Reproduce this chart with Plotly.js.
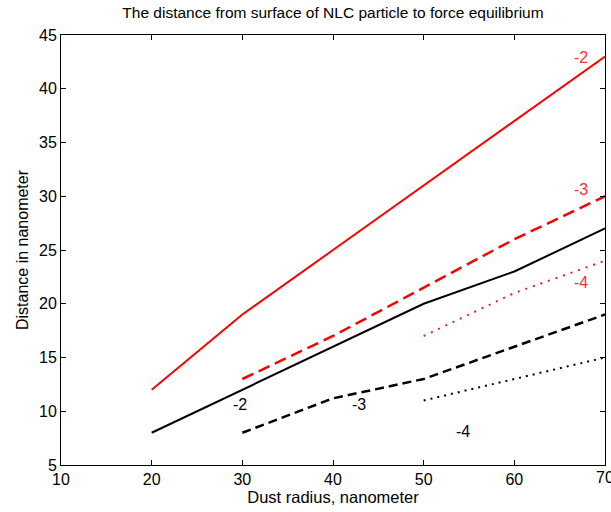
<!DOCTYPE html>
<html>
<head>
<meta charset="utf-8">
<script src="https://cdn.plot.ly/plotly-3.0.1.min.js"></script>
<style>html,body{margin:0;padding:0;background:#fff;}#chart{width:611px;height:512px;}</style>
</head>
<body>
<div id="chart"></div>
<script>
// Data
var xA = [20, 30, 40, 50, 60, 70];
var xB = [30, 40, 50, 60, 70];
var xC = [50, 60, 70];
var redSolid = [12, 19, 25, 31, 37, 43];
var redDashed = [13, 17, 21.5, 26, 30];
var redDotted = [17, 21, 24];
var blackSolid = [8, 12, 16, 20, 23, 27];
var blackDashed = [8, 11.2, 13, 16, 19];
var blackDotted = [11, 13, 15];

var labelText = ['-2', '-3', '-4', '-2', '-3', '-4'];
var labelX = [67.3, 67.3, 67.3, 29.7, 42.9, 54.3];
var labelY = [42.9, 30.6, 22.0, 10.6, 10.6, 8.1];
var labelColor = ['#e8343c', '#e8343c', '#e8343c', '#000000', '#000000', '#000000'];

var xTicks = [10, 20, 30, 40, 50, 60, 70];
var yTicks = [5, 10, 15, 20, 25, 30, 35, 40, 45];

var FONT = '"Liberation Sans", Arial, sans-serif';

var traces = [
  {x: xA, y: redSolid, mode: 'lines', line: {color: '#ff0000', width: 2, dash: 'solid'}},
  {x: xB, y: redDashed, mode: 'lines', line: {color: '#ff0000', width: 2.5, dash: '12px,6px'}},
  {x: xC, y: redDotted, mode: 'lines', line: {color: '#e0203c', width: 2, dash: '2px,6px'}},
  {x: xA, y: blackSolid, mode: 'lines', line: {color: '#000000', width: 2, dash: 'solid'}},
  {x: xB, y: blackDashed, mode: 'lines', line: {color: '#000000', width: 2.5, dash: '9px,5px'}},
  {x: xC, y: blackDotted, mode: 'lines', line: {color: '#000000', width: 2, dash: '2px,5px'}}
];

var annotations = labelText.map(function (t, i) {
  return {
    x: labelX[i], y: labelY[i], xref: 'x', yref: 'y', text: t,
    showarrow: false, font: {family: FONT, size: 16, color: labelColor[i]}
  };
});
// last x tick label, which the reference shows clipped at the right edge
annotations.push({
  x: xTicks[xTicks.length - 1], y: 0, xref: 'x', yref: 'paper', yanchor: 'top', yshift: -2,
  text: String(xTicks[xTicks.length - 1]), showarrow: false,
  font: {family: FONT, size: 16, color: '#000'}
});

var axisCommon = {
  showgrid: false, zeroline: false, showline: true, linecolor: '#000', linewidth: 1,
  mirror: 'ticks', ticks: 'inside', ticklen: 5, tickwidth: 1, tickcolor: '#000',
  tickfont: {family: FONT, size: 16, color: '#000'}
};

var layout = {
  width: 611, height: 512,
  margin: {l: 61, r: 6, t: 35, b: 47},
  paper_bgcolor: '#fff', plot_bgcolor: '#fff',
  showlegend: false,
  title: {text: 'The distance from surface of NLC particle to force equilibrium',
          font: {family: FONT, size: 15.5, color: '#000'}, x: 0.545, xanchor: 'center', y: 0.975, yanchor: 'middle'},
  xaxis: Object.assign({}, axisCommon, {
    range: [10, 70], tickvals: xTicks.slice(0, -1), ticktext: xTicks.slice(0, -1).map(String),
    title: {text: 'Dust radius, nanometer', font: {family: FONT, size: 16.5, color: '#000'}, standoff: 4}
  }),
  yaxis: Object.assign({}, axisCommon, {
    range: [5, 45], tickvals: yTicks, ticktext: yTicks.map(String),
    title: {text: 'Distance in nanometer', font: {family: FONT, size: 16, color: '#000'}, standoff: 6}
  }),
  annotations: annotations
};

Plotly.newPlot('chart', traces, layout, {staticPlot: true, displayModeBar: false});
</script>
</body>
</html>
